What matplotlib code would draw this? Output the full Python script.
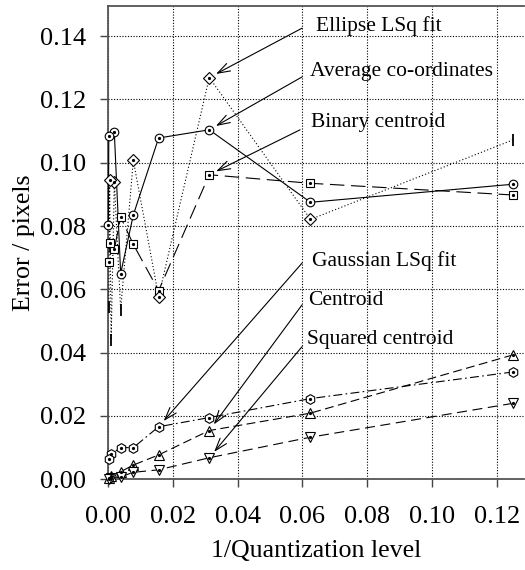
import matplotlib
matplotlib.use("Agg")
import matplotlib.pyplot as plt

plt.rcParams['font.family'] = ['Liberation Serif', 'DejaVu Serif']

# ---------------- data ----------------
x_ellipse = [0.125, 0.0625, 0.03125, 0.015625, 0.0078125, 0.00390625,
             0.001953125, 0.0009765625, 0.00048828125, 0.000244140625]
ellipse = [0.1072, 0.0821, 0.1269, 0.0577, 0.1007, 0.0535,
           0.0940, 0.0440, 0.0946, 0.0545]
ellipse_marker = ['|', 'D', 'D', 'D', 'D', '|', 'D', '|', 'D', '|']

x_avg = [0.125, 0.0625, 0.03125, 0.015625, 0.0078125, 0.00390625,
         0.001953125, 0.00024, 0.00012]
average = [0.0932, 0.0875, 0.1104, 0.1078, 0.0835, 0.0650,
           0.1096, 0.1083, 0.0803]

x_binary = [0.125, 0.0625, 0.03125, 0.015625, 0.0078125, 0.00390625,
            0.001953125, 0.00048828125, 0.000244140625]
binary = [0.0898, 0.0935, 0.0962, 0.0596, 0.0742, 0.0828,
          0.0727, 0.0746, 0.0686]

x_low = [0.125, 0.0625, 0.03125, 0.015625, 0.0078125, 0.00390625,
         0.0009765625, 0.000244140625]
gaussian = [0.0339, 0.0255, 0.0195, 0.0166, 0.0100, 0.0100, 0.0080, 0.0063]
centroid = [0.0393, 0.0209, 0.0154, 0.0077, 0.0045, 0.0024, 0.0012, 0.0004]
squared = [0.0240, 0.0133, 0.0068, 0.0030, 0.0022, 0.0008, 0.0004, 0.0001]

labels = ['Ellipse LSq fit', 'Average co-ordinates', 'Binary centroid',
          'Gaussian LSq fit', 'Centroid', 'Squared centroid']

x_ticks = [0.00, 0.02, 0.04, 0.06, 0.08, 0.10, 0.12]
y_ticks = [0.00, 0.02, 0.04, 0.06, 0.08, 0.10, 0.12, 0.14]

# ---------------- figure ----------------
fig = plt.figure(figsize=(5.25, 5.7), dpi=100)
ax = fig.add_axes([108/525, 1 - 479.3/570, (524-108)/525, (479.3-6)/570])
ax.set_xlim(0, 0.1284)
ax.set_ylim(0, 0.1495)

lw = 0.8
mew = 0.8
common = dict(color='black', linewidth=lw, clip_on=False, zorder=3)

def dot(xs, ys):
    ax.plot(xs, ys, linestyle='none', marker='o', markersize=1.3,
            color='black', clip_on=False, zorder=5)

# Ellipse LSq fit: dotted with diamonds (some points drawn as bars)
ax.plot(x_ellipse, ellipse, linestyle=(0, (1, 2)), **common)
xd = [x for x, m in zip(x_ellipse, ellipse_marker) if m == 'D']
yd = [y for y, m in zip(ellipse, ellipse_marker) if m == 'D']
xb = [x for x, m in zip(x_ellipse, ellipse_marker) if m == '|']
yb = [y for y, m in zip(ellipse, ellipse_marker) if m == '|']
ax.plot(xd, yd, linestyle='none', marker='D', markersize=6.4,
        markerfacecolor='white', markeredgecolor='black',
        markeredgewidth=mew, clip_on=False, zorder=4)
dot(xd, yd)
ax.plot(xb, yb, linestyle='none', marker='|', markersize=9,
        markeredgecolor='black', markeredgewidth=1.3, clip_on=False, zorder=4)

# Average co-ordinates: solid with circles
ax.plot(x_avg, average, linestyle='-', marker='o', markersize=6.2,
        markerfacecolor='white', markeredgecolor='black',
        markeredgewidth=mew, **common)
dot(x_avg, average)

# Binary centroid: long dashes with squares
ax.plot(x_binary, binary, linestyle=(0, (13, 6)), marker='s', markersize=6,
        markerfacecolor='white', markeredgecolor='black',
        markeredgewidth=mew, **common)
dot(x_binary, binary)

# Gaussian LSq fit: dash-dot with hexagons
ax.plot(x_low, gaussian, linestyle=(0, (8, 3, 1.5, 3)), marker='h',
        markersize=7, markerfacecolor='white', markeredgecolor='black',
        markeredgewidth=mew, **common)
dot(x_low, gaussian)

# Centroid: dashed with up triangles
ax.plot(x_low, centroid, linestyle=(0, (8, 4)), marker='^', markersize=7,
        markerfacecolor='white', markeredgecolor='black',
        markeredgewidth=mew, **common)
dot(x_low, centroid)

# Squared centroid: dashed with down triangles
ax.plot(x_low, squared, linestyle=(0, (9, 5)), marker='v', markersize=7,
        markerfacecolor='white', markeredgecolor='black',
        markeredgewidth=mew, **common)
dot(x_low, squared)

# ---------------- annotations ----------------
text_x = [0.0642, 0.0623, 0.0627, 0.0630, 0.0617, 0.0614]
text_y = [0.1433, 0.1288, 0.1127, 0.0690, 0.0565, 0.0442]
start_x = [0.0599, 0.0599, 0.0593, 0.0599, 0.0599, 0.0599]
start_y = [0.1425, 0.1271, 0.1104, 0.0683, 0.0551, 0.0419]
targets = [(x_ellipse[2], ellipse[2]), (x_avg[2], average[2]),
           (x_binary[2], binary[2]), (x_low[3], gaussian[3]),
           (x_low[2], centroid[2]), (x_low[2], squared[2])]

for lab, tx, ty, sx, sy, tgt in zip(labels, text_x, text_y, start_x,
                                     start_y, targets):
    ax.text(tx, ty, lab, ha='left', va='center', fontsize=15.5, zorder=6)
    ax.annotate('', xy=tgt, xytext=(sx, sy),
                arrowprops=dict(arrowstyle='->,head_length=0.9,head_width=0.3',
                                color='black', lw=0.8, shrinkA=0, shrinkB=5.5,
                                mutation_scale=10),
                zorder=6)

# ---------------- axes styling ----------------
ax.set_xticks(x_ticks)
ax.set_xticklabels([f'{v:.2f}' for v in x_ticks])
ax.set_yticks(y_ticks)
ax.set_yticklabels([f'{v:.2f}' for v in y_ticks])
ax.tick_params(direction='out', length=6, width=1, color='#444444',
               labelsize=19)
ax.tick_params(axis='y', pad=10)
ax.tick_params(axis='x', pad=13)
ax.grid(True, linestyle=(0, (1, 1.5)), color='black', linewidth=0.8)
ax.set_axisbelow(True)
for s in ['top', 'left', 'bottom']:
    ax.spines[s].set_color('#555555')
    ax.spines[s].set_linewidth(1.3)
ax.spines['right'].set_visible(False)

ax.set_xlabel('1/Quantization level', fontsize=18.6, labelpad=9)
ax.set_ylabel('Error / pixels', fontsize=18.6, labelpad=3)

fig.savefig('out.png', dpi=100)
